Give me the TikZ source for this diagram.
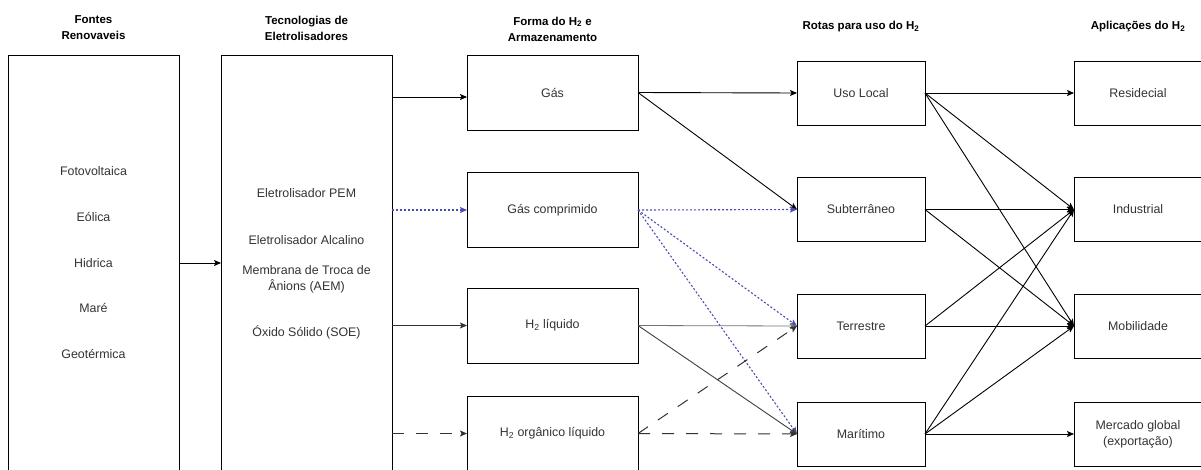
\documentclass[tikz,border=0pt]{standalone}
\usepackage{fontspec}
\setmainfont{Liberation Sans}
\usetikzlibrary{arrows.meta}
\definecolor{txt}{HTML}{333333}
\definecolor{dotblue}{RGB}{75,75,185}
\definecolor{dashgray}{HTML}{333333}
\begin{document}
\begin{tikzpicture}[x=1pt,y=-1pt,
  box/.style={draw=black, line width=1pt, rectangle, inner sep=0pt, outer sep=0pt, fill=white},
  body/.style={text=txt, font=\fontsize{12.4}{16}\selectfont, align=center, inner sep=0pt},
  head/.style={text=black, font=\bfseries\fontsize{11.5}{16}\selectfont, align=center, inner sep=0pt},
  tall/.style={box, minimum width=171pt, minimum height=450pt},
  forma/.style={box, body, minimum width=171pt, minimum height=75pt},
  rota/.style={box, body, minimum width=128pt, minimum height=64pt},
  tip/.style={-{Stealth[length=7pt,width=6pt,inset=1.5pt]}},
  arr/.style={tip, line width=0.9pt, draw=black},
  thinarr/.style={tip, line width=0.8pt, draw=black!55},
  darkarr/.style={tip, line width=0.9pt, draw=black!75},
  dotarr/.style={tip, line width=1.1pt, draw=dotblue, dash pattern=on 2pt off 2pt},
  dasharr/.style={tip, line width=1pt, draw=dashgray, dash pattern=on 12pt off 12pt},
]
\clip (0,0) rectangle (1201,469);
\fill[white] (0,0) rectangle (1201,469);

% column headings
\node[head] (h1) at (93.5,28) {Fontes\\Renovaveis};
\node[head] (h2) at (306.5,28) {Tecnologias de\\Eletrolisadores};
\node[head] (h3) at (552.5,29) {Forma do H\textsubscript{2} e\\Armazenamento};
\node[head] (h4) at (861,27) {Rotas para uso do H\textsubscript{2}};
\node[head] (h5) at (1138,27) {Aplicações do H\textsubscript{2}};

% renewable sources and electrolysers (open at the bottom)
\node[tall] (fontes) at (93.5,280) {};
\node[tall] (tec) at (306.5,280) {};

\node[body] (fv)  at (93.5,171) {Fotovoltaica};
\node[body] (eol) at (93.5,217) {Eólica};
\node[body] (hid) at (93.5,263) {Hidrica};
\node[body] (mare) at (93.5,308) {Maré};
\node[body] (geo) at (93.5,354) {Geotérmica};

\node[body] (pem) at (306.5,193) {Eletrolisador PEM};
\node[body] (alc) at (306.5,240) {Eletrolisador Alcalino};
\node[body] (aem) at (306.5,279) {Membrana de Troca de\\Ânions (AEM)};
\node[body] (soe) at (306.5,332) {Óxido Sólido (SOE)};

% hydrogen forms
\node[forma] (gas)  at (552.5,92.5) {Gás};
\node[forma] (comp) at (552.5,210) {Gás comprimido};
\node[forma] (liq)  at (552.5,325.5) {H\textsubscript{2} líquido};
\node[forma] (org)  at (552.5,433.5) {H\textsubscript{2} orgânico líquido};

% routes
\node[rota] (uso) at (861,93) {Uso Local};
\node[rota] (sub) at (861,209.5) {Subterrâneo};
\node[rota] (ter) at (861,326) {Terrestre};
\node[rota] (mar) at (861,434) {Marítimo};

% applications
\node[rota] (res) at (1138,93) {Residecial};
\node[rota] (ind) at (1138,209.5) {Industrial};
\node[rota] (mob) at (1138,326) {Mobilidade};
\node[rota] (exp) at (1138,434) {Mercado global\\(exportação)};

% sources -> electrolysers
\draw[arr] (hid -| fontes.east) -- (hid -| tec.west);

% electrolysers -> forms
\coordinate (g0) at ([yshift=-4.5pt]gas.west);
\draw[arr] (g0 -| tec.east) -- (g0);
\draw[dotarr] (comp.west -| tec.east) -- (comp.west);
\draw[thinarr, draw=black!80] (liq.west -| tec.east) -- (liq.west);
\draw[dasharr] (org.west -| tec.east) -- (org.west);

% forms -> routes
\draw[arr] (gas.east) -- (uso.west);
\draw[arr] (gas.east) -- (sub.west);
\draw[dotarr] (comp.east) -- (sub.west);
\draw[dotarr] (comp.east) -- (ter.west);
\draw[dotarr] (comp.east) -- (mar.west);
\draw[thinarr] (liq.east) -- (ter.west);
\draw[darkarr] (liq.east) -- (mar.west);
\draw[dasharr] (org.east) -- (mar.west);
\draw[dasharr] (org.east) -- (ter.west);

% routes -> applications
\draw[arr] (uso.east) -- (res.west);
\draw[arr] (uso.east) -- (ind.west);
\draw[arr] (uso.east) -- (mob.west);
\draw[arr] (sub.east) -- (ind.west);
\draw[arr] (sub.east) -- (mob.west);
\draw[arr] (ter.east) -- (ind.west);
\draw[arr] (ter.east) -- (mob.west);
\draw[arr] (mar.east) -- (ind.west);
\draw[arr] (mar.east) -- (mob.west);
\draw[arr] (mar.east) -- (exp.west);
\end{tikzpicture}
\end{document}
